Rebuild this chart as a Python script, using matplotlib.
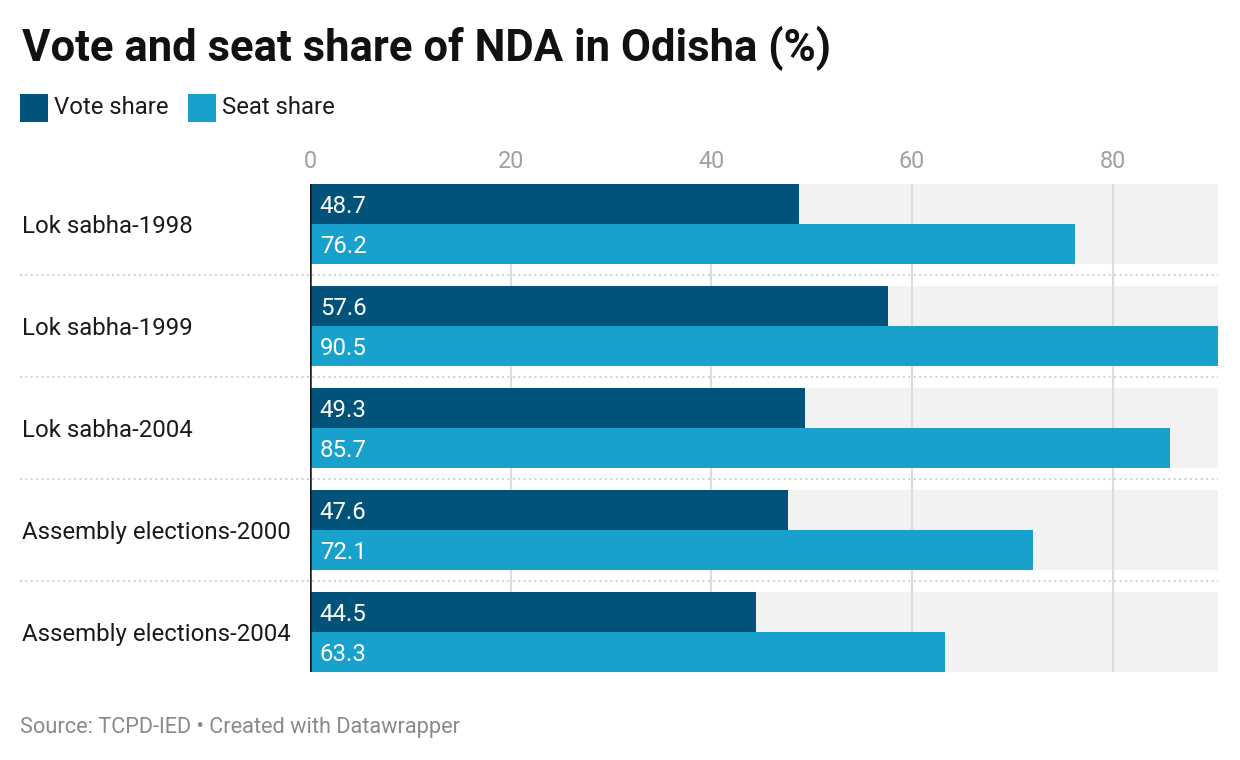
import matplotlib
matplotlib.use("Agg")
import matplotlib.pyplot as plt
from matplotlib.patches import Rectangle

categories = ["Lok sabha-1998", "Lok sabha-1999", "Lok sabha-2004",
              "Assembly elections-2000", "Assembly elections-2004"]
vote_share = [48.7, 57.6, 49.3, 47.6, 44.5]
seat_share = [76.2, 90.5, 85.7, 72.1, 63.3]
series_names = ["Vote share", "Seat share"]
x_ticks = [0, 20, 40, 60, 80]

DARK = "#01537a"
LIGHT = "#18a1cd"
plt.rcParams['font.family'] = ['Roboto', 'DejaVu Sans']

W, H = 1240, 760
fig = plt.figure(figsize=(W / 100, H / 100), dpi=100)
fig.patch.set_facecolor("white")

ax_left, ax_right, ax_top, ax_bot = 310, 1218, 184, 672
ax = fig.add_axes([ax_left / W, 1 - ax_bot / H, (ax_right - ax_left) / W, (ax_bot - ax_top) / H])

pitch = 102.0
bar_h = 40 / pitch
grp_h = 2 * bar_h
n = len(categories)
xmax = max(seat_share)
ax.set_xlim(0, xmax)
ax.set_ylim((n - 1) + grp_h, 0)

# grey background bands
for i in range(n):
    ax.add_patch(Rectangle((0, i), xmax, grp_h, facecolor="#f2f2f2", edgecolor="none", zorder=0))

# gridlines
for t in x_ticks[1:]:
    ax.axvline(t, color="#dcdcdc", lw=1.5, zorder=1)

ys = list(range(n))
ax.barh([y + bar_h / 2 for y in ys], vote_share, height=bar_h, color=DARK, zorder=2, linewidth=0)
ax.barh([y + 1.5 * bar_h for y in ys], seat_share, height=bar_h, color=LIGHT, zorder=2, linewidth=0)

for i, (v, s) in enumerate(zip(vote_share, seat_share)):
    ax.annotate(f"{v:.1f}", (0, i + bar_h / 2), xytext=(7.0, -1.5), textcoords="offset points",
                ha="left", va="center", color="white", fontsize=17.3, zorder=3)
    ax.annotate(f"{s:.1f}", (0, i + 1.5 * bar_h), xytext=(7.0, -1.5), textcoords="offset points",
                ha="left", va="center", color="white", fontsize=17.3, zorder=3)

# zero line
ax.axvline(0, color="#1a1a1a", lw=1.8, zorder=4)

# separators
sep_x0 = (20 - ax_left) / (ax_right - ax_left)
for i in range(n - 1):
    y = i + (grp_h + 1) / 2
    ax.plot([sep_x0, 1], [y, y], transform=ax.get_yaxis_transform(), color="#c8c8c8",
            lw=1.3, ls=(0, (1, 2)), clip_on=False, zorder=1)

# category labels
for i, c in enumerate(categories):
    ax.annotate(c, ((22 - ax_left) / (ax_right - ax_left), i + bar_h), xycoords=ax.get_yaxis_transform(),
                xytext=(0, -2), textcoords="offset points",
                ha="left", va="center", fontsize=17.3, color="#1a1a1a")

# ticks on top
ax.xaxis.tick_top()
ax.set_xticks(x_ticks)
ax.set_xticklabels([str(t) for t in x_ticks])
ax.tick_params(axis="x", length=0, pad=8, labelsize=16.8, labelcolor="#a0a0a0")
ax.set_yticks([])
for sp in ax.spines.values():
    sp.set_visible(False)

# title
fig.text(22 / W, 1 - 48 / H, "Vote and seat share of NDA in Odisha (%)", fontsize=31.4,
         fontweight="bold", color="#111111", ha="left", va="center")

# legend
for x0, col, name in [(20, DARK, series_names[0]), (188, LIGHT, series_names[1])]:
    fig.patches.append(Rectangle((x0 / W, 1 - 122 / H), 28 / W, 28 / H, transform=fig.transFigure,
                                 facecolor=col, edgecolor="none"))
    fig.text((x0 + 34) / W, 1 - 108 / H, name, fontsize=17.2, color="#1a1a1a", ha="left", va="center")

# source
fig.text(20 / W, 1 - 727 / H, "Source: TCPD-IED \u2022 Created with Datawrapper", fontsize=15.7,
         color="#8a8a8a", ha="left", va="center")

fig.savefig("out.png", dpi=100, facecolor="white")
